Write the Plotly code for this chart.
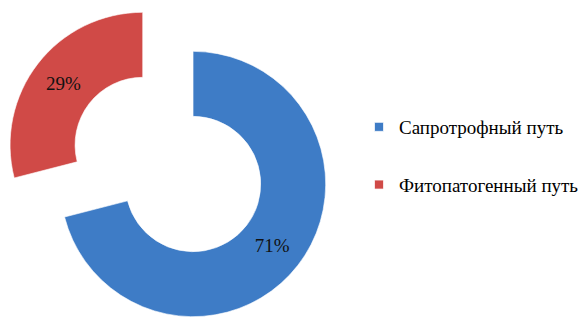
import plotly.graph_objects as go

# Share of each infection pathway, percent
categories = ["Сапротрофный путь", "Фитопатогенный путь"]
shares = [71, 29]
colors = ["#3E7CC6", "#D04A47"]

fig = go.Figure()

fig.add_trace(go.Pie(
    labels=categories,
    values=shares,
    hole=0.51,
    pull=[0.24, 0.24],
    sort=False,
    direction="clockwise",
    rotation=0,
    marker=dict(colors=colors, line=dict(color="rgba(255,255,255,0.6)", width=1)),
    textinfo="percent",
    texttemplate="%{value}%",
    textposition="inside",
    insidetextorientation="horizontal",
    textfont=dict(family="Liberation Serif, Times New Roman, serif", size=19, color="#111111"),
    domain=dict(x=[0.0, 0.572], y=[0.0, 1.0]),
    showlegend=False,
    hoverinfo="label+percent",
))

# Legend entries, one group per category so the gap between rows can be set
for name, color in zip(categories, colors):
    fig.add_trace(go.Scatter(
        x=[None], y=[None],
        mode="markers",
        name=name,
        legendgroup=name,
        marker=dict(symbol="square", size=9, color=color,
                    line=dict(color="rgba(255,255,255,0.7)", width=1)),
        hoverinfo="skip",
    ))

fig.update_layout(
    width=587,
    height=329,
    margin=dict(l=0, r=0, t=0, b=0),
    paper_bgcolor="white",
    plot_bgcolor="white",
    xaxis=dict(visible=False),
    yaxis=dict(visible=False),
    showlegend=True,
    legend=dict(
        x=359 / 587,
        y=1 - 156 / 329,
        xanchor="left",
        yanchor="middle",
        traceorder="grouped",
        tracegroupgap=30,
        font=dict(family="Liberation Serif, Times New Roman, serif", size=19, color="#000000"),
        bgcolor="rgba(0,0,0,0)",
        itemclick=False,
        itemdoubleclick=False,
    ),
)

fig.write_html("out.html")
